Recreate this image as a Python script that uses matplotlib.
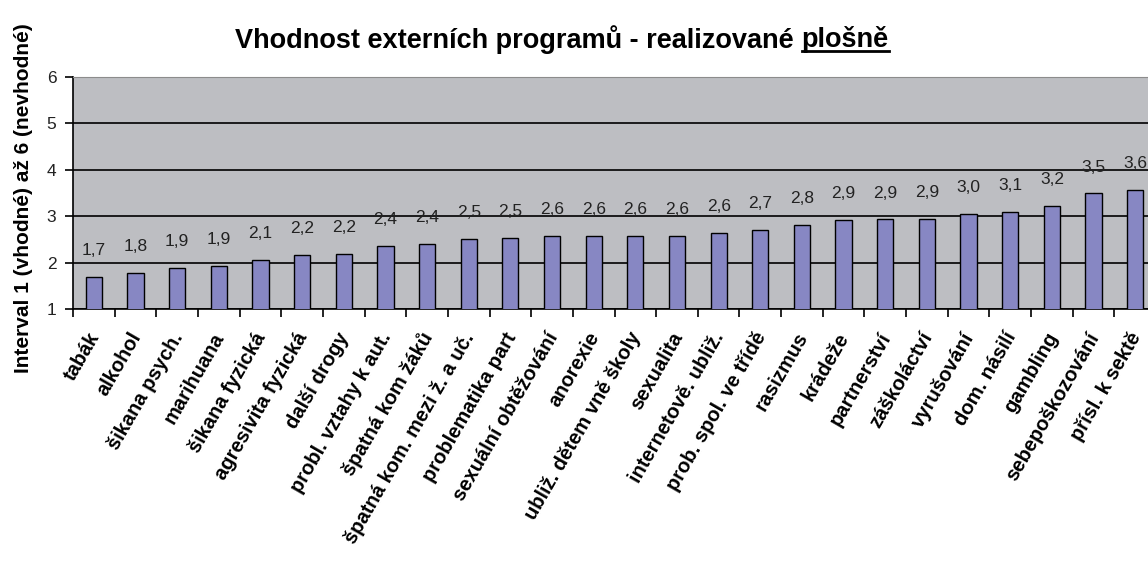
import numpy as np, matplotlib
matplotlib.use('Agg')
import matplotlib.pyplot as plt
import matplotlib.transforms as mtransforms
from matplotlib.lines import Line2D

plt.rcParams['font.family'] = ['Liberation Sans', 'DejaVu Sans']

categories = ['tabák', 'alkohol', 'šikana psych.', 'marihuana', 'šikana fyzická',
              'agresivita fyzická', 'další drogy', 'probl. vztahy k aut.', 'špatná kom žáků',
              'špatná kom. mezi ž. a uč.', 'problematika part', 'sexuální obtěžování',
              'anorexie', 'ubliž. dětem vně školy', 'sexualita', 'internetově. ubliž.',
              'prob. spol. ve třídě', 'rasizmus', 'krádeže', 'partnerství', 'záškoláctví',
              'vyrušování', 'dom. násilí', 'gambling', 'sebepoškozování', 'přísl. k sektě']
values = [1.70, 1.78, 1.89, 1.92, 2.06, 2.16, 2.18, 2.36, 2.40, 2.51, 2.54, 2.57, 2.57,
          2.57, 2.57, 2.64, 2.70, 2.82, 2.91, 2.93, 2.94, 3.04, 3.10, 3.23, 3.49, 3.57]
yticks = [1, 2, 3, 4, 5, 6]

C_BG = '#BDBEC2'; C_BAR = '#8787C3'

fig = plt.figure(figsize=(11.48, 5.65), dpi=100, facecolor='white')
ax = fig.add_axes([73/1148, 1-309/565, 1083/1148, 232/565])
ax.set_facecolor(C_BG)
x = np.arange(len(values))
ax.bar(x, values, width=0.39, bottom=0, color=C_BAR, edgecolor='black', lw=1.0, zorder=3)
ax.set_xlim(-0.5, len(values)-0.5); ax.set_ylim(1, 6)
ax.set_yticks(yticks)
ax.set_yticklabels([str(t) for t in yticks], fontsize=12.5, color='#222222')
ax.grid(axis='y', color='black', lw=1.2, zorder=1)
ax.set_axisbelow(True)
for v, xi in zip(values, x):
    ax.text(xi, v + 0.57, f'{v:.1f}'.replace('.', ','), ha='center', va='center',
            fontsize=12.5, color='#222222', zorder=4)

# category labels: drawn as texts below the axis, nudged left like the original
ax.set_xticks([])
lbl_tr = (mtransforms.blended_transform_factory(ax.transData, ax.transAxes)
          + mtransforms.ScaledTranslation(-7/100, -20/100, fig.dpi_scale_trans))
for xi, c in zip(x, categories):
    ax.text(xi, 0, c, transform=lbl_tr, rotation=60, ha='right', va='top',
            rotation_mode='anchor', fontsize=14.5, fontweight='bold', clip_on=False)
ax.set_xticks(np.arange(len(values)+1)-0.5, minor=True)
ax.tick_params(axis='x', which='minor', length=6, width=1.2, color='black', direction='out')
ax.tick_params(axis='y', length=6, width=1.2, direction='out', pad=6)
for s in ['top', 'right']: ax.spines[s].set_color('#8C8C8C')
ax.spines['left'].set_color('black'); ax.spines['bottom'].set_color('black')
ax.spines['left'].set_linewidth(1.2); ax.spines['bottom'].set_linewidth(1.2)

ax.set_ylabel('Interval 1 (vhodné) až 6 (nevhodné)', fontsize=15, fontweight='bold')
ax.yaxis.set_label_coords(-0.0365, 0.4785)

# title with underlined last word
t1 = fig.text(0.5, 0.93, 'Vhodnost externích programů - realizované ', ha='left', va='center',
              fontsize=19.5, fontweight='bold')
t2 = fig.text(0.5, 0.93, 'plošně', ha='left', va='center', fontsize=19.5, fontweight='bold')
r = fig.canvas.get_renderer()
w1 = t1.get_window_extent(r).width; w2 = t2.get_window_extent(r).width
x0 = 562 - (w1 + w2) / 2
t1.set_x(x0 / 1148); t2.set_x((x0 + w1) / 1148)
bb = t2.get_window_extent(r)
uy = (bb.y0 + 2) / 565
fig.add_artist(Line2D([(x0 + w1) / 1148, (x0 + w1 + w2) / 1148], [uy, uy],
                      color='black', lw=2, transform=fig.transFigure))

fig.savefig('out.png', dpi=100, facecolor='white')
